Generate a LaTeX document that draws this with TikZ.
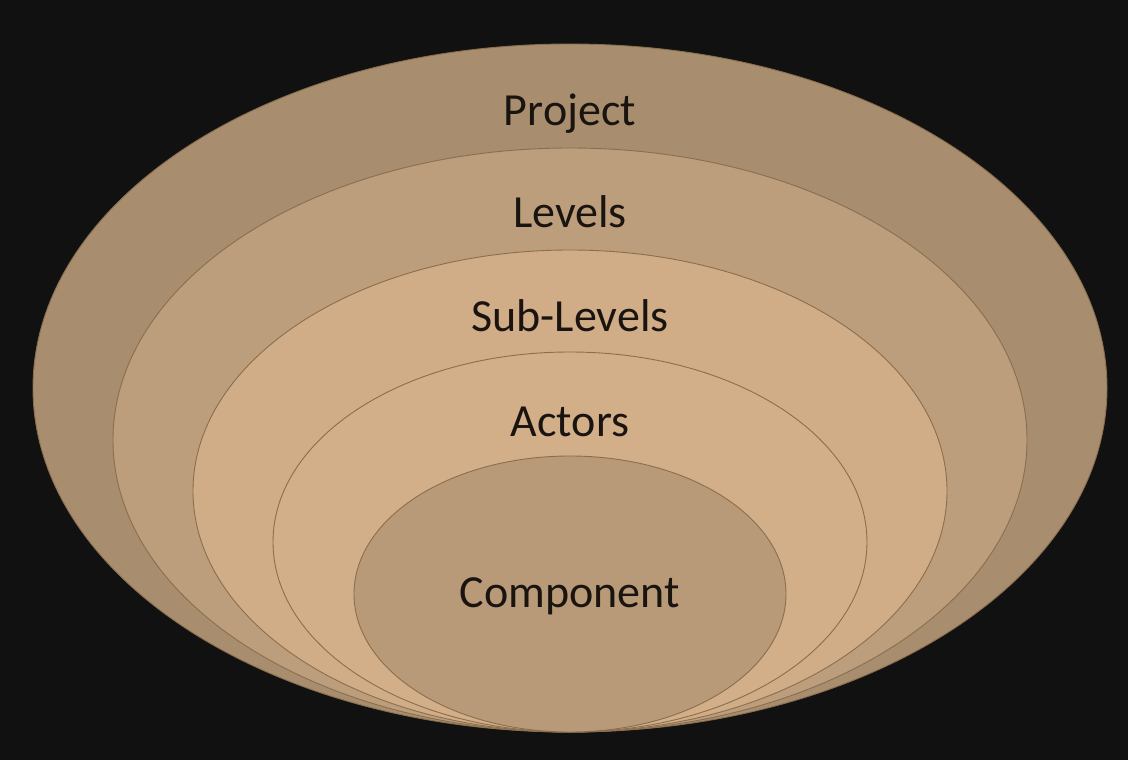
\documentclass[tikz,border=0pt]{standalone}
\usepackage{fontspec}
\setmainfont{Carlito}
\definecolor{bg}{HTML}{111111}
\definecolor{cproject}{HTML}{A88E6E}
\definecolor{clevels}{HTML}{BC9E7C}
\definecolor{csub}{HTML}{D0AD86}
\definecolor{cactors}{HTML}{D2AF88}
\definecolor{ccomp}{HTML}{B89A78}
\definecolor{edge}{HTML}{8A6E4E}
\definecolor{ink}{HTML}{1A1410}
\begin{document}
\begin{tikzpicture}[x=1pt,y=-1pt,
  layer/.style={draw=edge,line width=0.9pt},
  label/.style={anchor=base,text=ink,font=\fontsize{46}{50}\selectfont,inner sep=0pt}]
\useasboundingbox (0,0) rectangle (1128,760);
\fill[bg] (0,0) rectangle (1128,760);
\path[layer,fill=cproject] (570,388) ellipse [x radius=537,y radius=344];
\path[layer,fill=clevels]  (570,440) ellipse [x radius=457,y radius=292];
\path[layer,fill=csub]     (570,491) ellipse [x radius=377,y radius=241];
\path[layer,fill=cactors]  (570,542) ellipse [x radius=297,y radius=190];
\path[layer,fill=ccomp]    (570,594) ellipse [x radius=216,y radius=138];
\node[label] (project) at (570,125) {Project};
\node[label] (levels) at (570,227) {Levels};
\node[label] (sublevels) at (570,331) {Sub-Levels};
\node[label] (actors) at (570,436) {Actors};
\node[label] (component) at (570,607) {Component};
\end{tikzpicture}
\end{document}
